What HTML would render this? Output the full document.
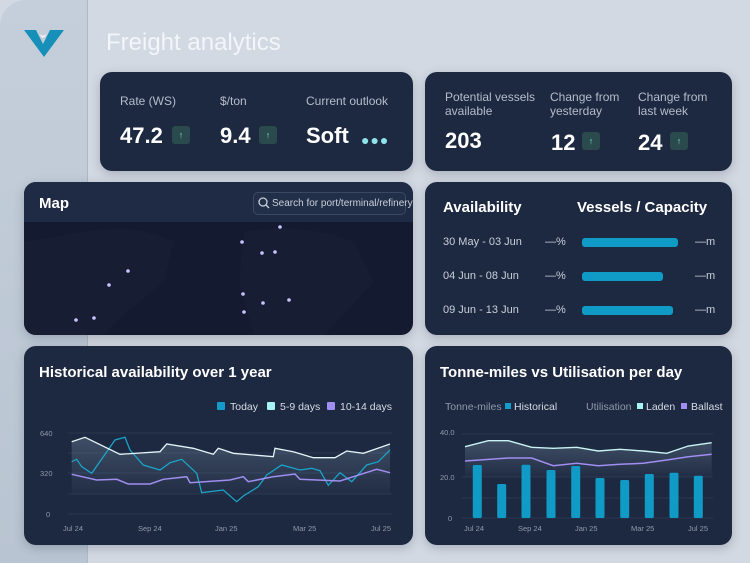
<!DOCTYPE html>
<html><head><meta charset="utf-8"><style>
*{margin:0;padding:0;box-sizing:border-box}
body{width:750px;height:563px;overflow:hidden;background:#d3d9e2;font-family:"Liberation Sans",sans-serif;position:relative}
.side{position:absolute;left:0;top:0;width:88px;height:563px;background:linear-gradient(180deg,#c5cfdb,#b9c4d2);border-top-left-radius:26px;border-right:1px solid #aeb9c8}
.card{position:absolute;background:#1d2940;border-radius:12px;color:#fff;box-shadow:0 3px 10px rgba(40,50,70,.25)}
.lbl{position:absolute;font-size:12px;color:#b4bdcb;line-height:14px}
.big{position:absolute;font-size:22px;font-weight:bold;color:#fff}
.up{position:absolute;width:18px;height:18px;background:#2a4a4e;border-radius:3px;color:#6fe0c0;font-size:9px;text-align:center;line-height:18px}
.title{position:absolute;font-size:15px;font-weight:bold;color:#fff}
.t{position:absolute;font-size:11px;color:#c9d0db;white-space:nowrap}
.bar{position:absolute;height:9px;background:#109ac6;border-radius:3px}
</style></head><body>
<div class="side"></div>
<svg style="position:absolute;left:22px;top:28px" width="44" height="30"><polygon points="2,2 14,2 21,16 28,2 42,2 22,29" fill="#1690b8"/><polygon points="17,6 21,10 25,6 21,8" fill="#fff"/></svg>
<div style="position:absolute;left:106px;top:29px;font-size:24px;color:#f2f5f9">Freight analytics</div>

<div class="card" style="left:100px;top:72px;width:313px;height:99px">
<div class="lbl" style="left:20px;top:22px">Rate (WS)</div>
<div class="lbl" style="left:120px;top:22px">$/ton</div>
<div class="lbl" style="left:206px;top:22px">Current outlook</div>
<div class="big" style="left:20px;top:51px">47.2</div><div class="up" style="left:72px;top:54px">↑</div>
<div class="big" style="left:120px;top:51px">9.4</div><div class="up" style="left:159px;top:54px">↑</div>
<div class="big" style="left:206px;top:51px">Soft</div>
<div style="position:absolute;left:261px;top:60px;color:#8fe4ec;font-size:14px;letter-spacing:1px">●●●</div>
</div>

<div class="card" style="left:425px;top:72px;width:307px;height:99px">
<div class="lbl" style="left:20px;top:18px">Potential vessels<br>available</div>
<div class="lbl" style="left:125px;top:18px">Change from<br>yesterday</div>
<div class="lbl" style="left:213px;top:18px">Change from<br>last week</div>
<div class="big" style="left:20px;top:56px">203</div>
<div class="big" style="left:126px;top:58px">12</div><div class="up" style="left:157px;top:60px">↑</div>
<div class="big" style="left:213px;top:58px">24</div><div class="up" style="left:245px;top:60px">↑</div>
</div>

<div class="card" style="left:24px;top:182px;width:389px;height:153px;overflow:hidden;background:#141b30">
<div style="position:absolute;left:0;top:0;width:389px;height:40px;background:#1f2b44"></div>
<div class="title" style="left:15px;top:13px">Map</div>
<div style="position:absolute;left:229px;top:10px;width:153px;height:23px;border:1px solid #3a4862;border-radius:5px;background:#222f49"></div>
<svg style="position:absolute;left:234px;top:15px" width="12" height="12"><circle cx="5" cy="5" r="4" stroke="#c9d0db" fill="none" stroke-width="1.3"/><line x1="8" y1="8" x2="11" y2="11" stroke="#c9d0db" stroke-width="1.3"/></svg>
<div class="t" style="left:248px;top:16px;font-size:10px">Search for port/terminal/refinery</div>
<svg style="position:absolute;left:0;top:40px" width="389" height="113">
<path d="M60,10 Q110,0 150,20 L140,60 Q100,90 80,113 L0,113 L0,20Z" fill="#171e33"/>
<path d="M220,10 Q280,0 330,20 L350,60 L300,113 L230,113 L215,60Z" fill="#171e33"/>
<g fill="#c8c4ff"><circle cx="256" cy="5" r="1.8"/><circle cx="218" cy="20" r="1.8"/><circle cx="238" cy="31" r="1.8"/><circle cx="251" cy="30" r="1.8"/><circle cx="104" cy="49" r="1.8"/><circle cx="85" cy="63" r="1.8"/><circle cx="219" cy="72" r="1.8"/><circle cx="239" cy="81" r="1.8"/><circle cx="265" cy="78" r="1.8"/><circle cx="220" cy="90" r="1.8"/><circle cx="52" cy="98" r="1.8"/><circle cx="70" cy="96" r="1.8"/></g>
</svg>
</div>

<div class="card" style="left:425px;top:182px;width:307px;height:153px">
<div class="title" style="left:18px;top:17px">Availability</div>
<div class="title" style="left:152px;top:17px">Vessels / Capacity</div>
<div class="t" style="left:18px;top:54px">30 May - 03 Jun</div>
<div class="t" style="left:18px;top:88px">04 Jun - 08 Jun</div>
<div class="t" style="left:18px;top:122px">09 Jun - 13 Jun</div>
<div class="t" style="left:120px;top:54px">—%</div><div class="t" style="left:120px;top:88px">—%</div><div class="t" style="left:120px;top:122px">—%</div>
<div class="t" style="left:270px;top:54px">—m</div><div class="t" style="left:270px;top:88px">—m</div><div class="t" style="left:270px;top:122px">—m</div>
<div class="bar" style="left:157px;top:56px;width:96px"></div>
<div class="bar" style="left:157px;top:90px;width:81px"></div>
<div class="bar" style="left:157px;top:124px;width:91px"></div>
</div>

<div class="card" style="left:24px;top:346px;width:389px;height:199px"></div>
<div class="card" style="left:425px;top:346px;width:307px;height:199px"></div>
<div class="title" style="left:39px;top:364px">Historical availability over 1 year</div>
<div class="title" style="left:440px;top:364px">Tonne-miles vs Utilisation per day</div>

<svg style="position:absolute;left:0;top:0" width="750" height="563" font-family="Liberation Sans, sans-serif">
<defs><linearGradient id="g" x1="0" y1="0" x2="0" y2="1"><stop offset="0" stop-color="#6a7d96" stop-opacity=".45"/><stop offset="1" stop-color="#6a7d96" stop-opacity=".05"/></linearGradient></defs>
<g font-size="10.5" fill="#d6dce6">
<rect x="217" y="402" width="8" height="8" fill="#139cc9" rx="1"/><text x="230" y="410">Today</text>
<rect x="267" y="402" width="8" height="8" fill="#a6f2f5" rx="1"/><text x="280" y="410">5-9 days</text>
<rect x="327" y="402" width="8" height="8" fill="#a08ef0" rx="1"/><text x="340" y="410">10-14 days</text>
<text x="445" y="410" fill="#8e99ab">Tonne-miles</text><rect x="505" y="403" width="6" height="6" fill="#139cc9"/><text x="514" y="410">Historical</text>
<text x="586" y="410" fill="#8e99ab">Utilisation</text><rect x="637" y="403" width="6" height="6" fill="#a6f2f5"/><text x="646" y="410">Laden</text>
<rect x="681" y="403" width="6" height="6" fill="#a08ef0"/><text x="691" y="410">Ballast</text>
</g>
<g stroke="#2c3851" stroke-width="1"><line x1="68" y1="433" x2="392" y2="433"/><line x1="68" y1="453" x2="392" y2="453"/><line x1="68" y1="473" x2="392" y2="473"/><line x1="68" y1="494" x2="392" y2="494"/><line x1="68" y1="514" x2="392" y2="514"/>
<line x1="462" y1="434" x2="713" y2="434"/><line x1="462" y1="477" x2="713" y2="477"/><line x1="462" y1="498" x2="713" y2="498"/><line x1="462" y1="518" x2="713" y2="518"/></g>
<g font-size="7.5" fill="#8e99ab"><text x="40" y="436">640</text><text x="40" y="476">320</text><text x="46" y="517">0</text>
<text x="63" y="531">Jul 24</text><text x="138" y="531">Sep 24</text><text x="215" y="531">Jan 25</text><text x="293" y="531">Mar 25</text><text x="371" y="531">Jul 25</text>
<text x="440" y="435">40.0</text><text x="440" y="480">20.0</text><text x="448" y="521">0</text>
<text x="464" y="531">Jul 24</text><text x="518" y="531">Sep 24</text><text x="575" y="531">Jan 25</text><text x="631" y="531">Mar 25</text><text x="688" y="531">Jul 25</text></g>
<polygon fill="url(#g)" points="71.7,441.7 85,437.3 120,454.3 160,451.7 166.7,444 193.3,448.3 213.3,454.3 218.3,448.3 233.3,453.3 273.3,456.7 275,448.3 293.3,451.7 313.3,457.7 335,457.7 346.7,451 363.3,453.3 390,444 390,494 71.7,494"/>
<polyline fill="none" stroke="#1aa3c8" stroke-width="1.3" points="71.7,461.7 76.7,459.3 81.7,466.7 91.7,473.3 103.3,456.7 115,440 125,437.3 130,450 143.3,465 160,470 170,462.7 181.7,459.3 196.7,473.3 201.7,492.7 223.3,490 236.7,501.7 243.3,496 258.3,486.7 266.7,475 281.7,465 300,470 311.7,468.3 320,470.7 328.3,485.3 340,472.7 351.7,481.7 366.7,465 378.3,461.7 390,450"/>
<polyline fill="none" stroke="#e3f6f8" stroke-width="1.3" points="71.7,441.7 85,437.3 120,454.3 160,451.7 166.7,444 193.3,448.3 213.3,454.3 218.3,448.3 233.3,453.3 273.3,456.7 275,448.3 293.3,451.7 313.3,457.7 335,457.7 346.7,451 363.3,453.3 390,444"/>
<polyline fill="none" stroke="#a08ef0" stroke-width="1.5" points="71.7,474.3 96.7,480 116.7,479.3 128.3,484 150,484 163.3,479.3 186.7,476.7 190,482.7 230,480 243.3,476.7 248.3,481.7 273.3,476.7 295,474 300,479.3 340,481 353.3,476.7 376.7,469.3 390,472.7"/>
<polygon fill="url(#g)" points="465,446.7 488.3,440.7 508.3,440.7 531.7,447.3 553.3,448.3 576.7,447.3 598.3,451 620,449.3 643.3,451 666.7,453.3 688.3,446 711.7,442.7 711.7,477 465,477"/>
<g fill="#109ac6"><rect x="472.8" y="465" width="9" height="53" rx="1.5"/><rect x="497.2" y="484" width="9" height="34" rx="1.5"/><rect x="521.5" y="464.7" width="9" height="53.3" rx="1.5"/><rect x="546.5" y="470" width="9" height="48" rx="1.5"/><rect x="571.2" y="466" width="9" height="52" rx="1.5"/><rect x="595.5" y="478" width="9" height="40" rx="1.5"/><rect x="620.2" y="480" width="9" height="38" rx="1.5"/><rect x="644.8" y="474" width="9" height="44" rx="1.5"/><rect x="669.5" y="472.7" width="9" height="45.3" rx="1.5"/><rect x="693.8" y="475.7" width="9" height="42.3" rx="1.5"/></g>
<polyline fill="none" stroke="#c9f4f6" stroke-width="1.4" points="465,446.7 488.3,440.7 508.3,440.7 531.7,447.3 553.3,448.3 576.7,447.3 598.3,451 620,449.3 643.3,451 666.7,453.3 688.3,446 711.7,442.7"/>
<polyline fill="none" stroke="#a08ef0" stroke-width="1.5" points="465,461 508.3,458 531.7,458 553.3,465.7 576.7,463.3 598.3,465.7 620,464.3 643.3,463.3 666.7,460 688.3,456.7 711.7,454.3"/>
</svg>
</body></html>
